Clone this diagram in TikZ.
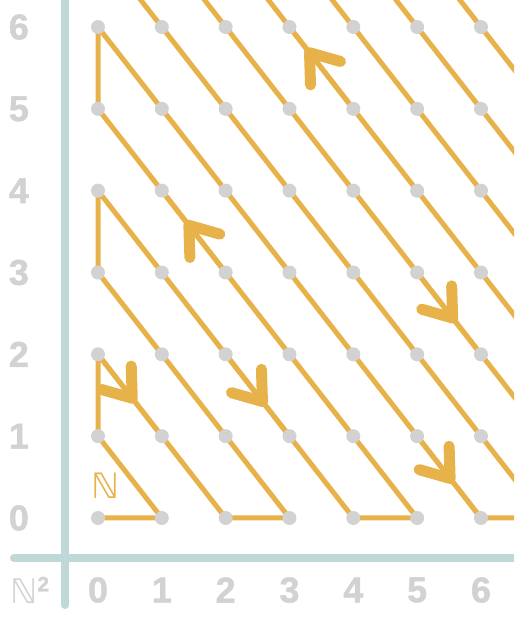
\documentclass[tikz,border=0pt]{standalone}
\usepackage{fontspec}
\setmainfont{Liberation Sans}
\newfontfamily\symfont{DejaVu Sans}
\newfontfamily\digitfont[FakeBold=1.2]{Liberation Sans Bold}
\usetikzlibrary{arrows.meta,decorations.markings}

\definecolor{pathorange}{RGB}{232,178,74}
\definecolor{axisteal}{RGB}{191,216,216}
\definecolor{dotgray}{RGB}{210,210,210}

\tikzset{
	zigzag/.style={draw=pathorange,line width=5pt,line join=round},
	flow/.style={postaction={decorate,decoration={markings,
		mark=at position #1 with {\arrow[pathorange]{Straight Barb[length=26pt,width=38pt,line width=11pt,round]}}}}},
	lattice/.style={circle,fill=dotgray,inner sep=0pt,minimum size=14pt},
	axislabel/.style={text=dotgray,font=\digitfont\fontsize{36}{36}\selectfont},
}

\begin{document}
\begin{tikzpicture}[x=63.83pt,y=81.83pt]
	\useasboundingbox (-98pt,-102pt) rectangle (416pt,518pt);
	\clip (-98pt,-102pt) rectangle (416pt,518pt);

	% axes
	\draw[axisteal,line width=8pt,line cap=round] (-33pt,-87pt) -- (-33pt,540pt);
	\draw[axisteal,line width=8pt,line cap=round] (-84pt,-40pt) -- (440pt,-40pt);

	\foreach \i in {0,...,14}
		\foreach \j in {0,...,14}
			\coordinate (c-\i-\j) at (\i,\j);

	\draw[zigzag] (c-0-0) -- (c-1-0) -- (c-0-1) -- (c-0-2) -- (c-2-0) -- (c-3-0) -- (c-0-3)
		-- (c-0-4) -- (c-4-0) -- (c-5-0) -- (c-0-5) -- (c-0-6) -- (c-6-0) -- (c-7-0) -- (c-0-7)
		-- (c-0-8) -- (c-8-0) -- (c-9-0) -- (c-0-9) -- (c-0-10) -- (c-10-0) -- (c-11-0) -- (c-0-11)
		-- (c-0-12) -- (c-12-0) -- (c-13-0) -- (c-0-13) -- (c-0-14) -- (c-14-0);

	\draw[zigzag,flow=0.59] (c-0-2) -- (c-1-1);
	\draw[zigzag,flow=0.63] (c-2-2) -- (c-3-1);
	\draw[zigzag,flow=0.61] (c-5-3) -- (c-6-2);
	\draw[zigzag,flow=0.57] (c-5-1) -- (c-6-0);
	\draw[zigzag,flow=0.63] (c-2-3) -- (c-1-4);
	\draw[zigzag,flow=0.74] (c-4-5) -- (c-3-6);

	\foreach \i in {0,...,6}
		\foreach \j in {0,...,6}
			\node[lattice] (d-\i-\j) at (\i,\j) {};

	\foreach \i in {0,...,6} {
		\node[axislabel] (xl-\i) at (\i,-0.88) {\i};
		\node[axislabel] (yl-\i) at (-1.24,\i) {\i};
	}

	\node[text=dotgray] (nsq) at (-1.07,-0.88) {{\symfont\fontsize{34}{34}\selectfont ℕ}\raisebox{12pt}{\digitfont\fontsize{21}{21}\selectfont 2}};
	\node[text=pathorange] (nset) at (0.11,0.39) {\symfont\fontsize{35}{35}\selectfont ℕ};
\end{tikzpicture}
\end{document}
